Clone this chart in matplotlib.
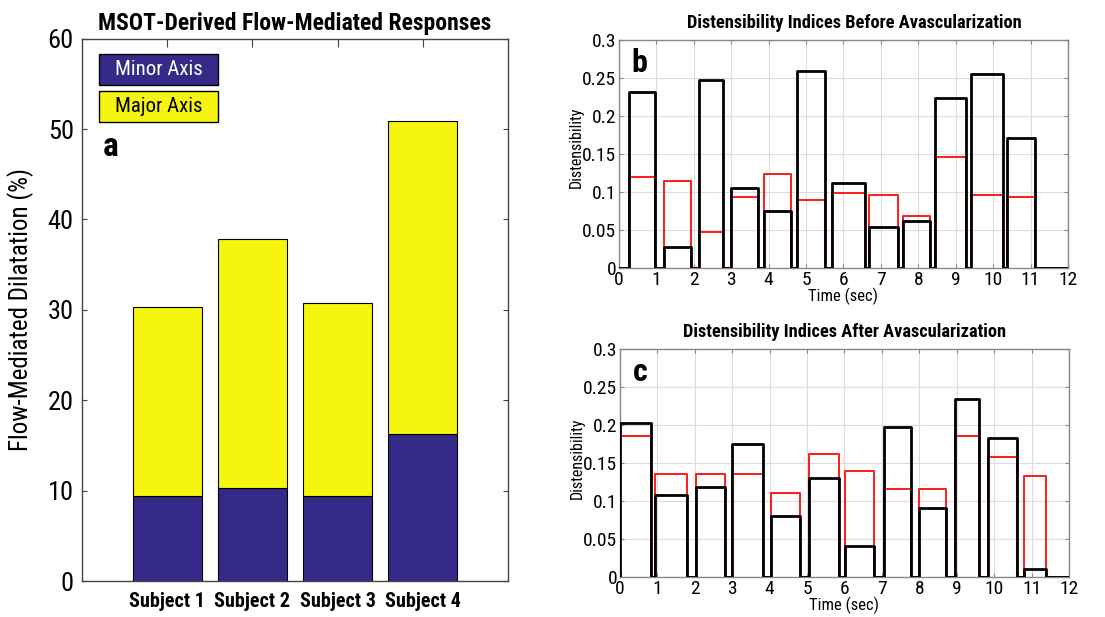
import numpy as np
import matplotlib
matplotlib.use("Agg")
import matplotlib.pyplot as plt
from matplotlib import font_manager
from matplotlib.patches import Rectangle

# prefer a narrow Arial-like face if one is installed
installed = {f.name for f in font_manager.fontManager.ttflist}
narrow = [n for n in ["Liberation Sans Narrow", "Roboto Condensed", "Open Sans Condensed",
                      "Noto Sans Condensed", "DejaVu Sans Condensed"] if n in installed]
if narrow:
    plt.rcParams['font.family'] = [narrow[0], 'DejaVu Sans']
    k = 1.0
else:
    plt.rcParams['font.family'] = ['Liberation Sans', 'DejaVu Sans']
    k = 0.85

# panel a: flow-mediated dilatation per subject
subjects = ["Subject 1", "Subject 2", "Subject 3", "Subject 4"]
minor_axis = [9.4, 10.3, 9.4, 16.3]
major_axis = [20.9, 27.5, 21.4, 34.6]

# panel b: distensibility before avascularization (segment start/end in sec)
b_start = [0.28, 1.20, 2.15, 3.00, 3.89, 4.77, 5.70, 6.69, 7.59, 8.44, 9.40, 10.36]
b_end = [0.97, 1.92, 2.79, 3.71, 4.60, 5.52, 6.59, 7.45, 8.32, 9.28, 10.27, 11.13]
b_black = [0.232, 0.028, 0.248, 0.105, 0.075, 0.259, 0.112, 0.054, 0.062, 0.224, 0.256, 0.171]
b_red = [0.120, 0.114, 0.048, 0.094, 0.124, 0.089, 0.099, 0.096, 0.068, 0.146, 0.096, 0.094]

# panel c: distensibility after avascularization
c_start = [0.00, 0.95, 2.02, 2.99, 4.03, 5.04, 6.02, 7.05, 8.00, 8.94, 9.84, 10.80]
c_end = [0.83, 1.80, 2.80, 3.83, 4.81, 5.85, 6.79, 7.78, 8.70, 9.60, 10.61, 11.39]
c_black = [0.203, 0.108, 0.118, 0.175, 0.080, 0.130, 0.041, 0.197, 0.091, 0.234, 0.183, 0.010]
c_red = [0.186, 0.136, 0.136, 0.136, 0.111, 0.162, 0.139, 0.116, 0.116, 0.186, 0.158, 0.133]

t_max = 12

BLUE = "#352A87"
YELLOW = "#F5F50F"


def step_xy(starts, ends, vals, tmax):
    xs, ys = [0.0], [0.0]
    for s, e, v in zip(starts, ends, vals):
        xs += [s, s, e, e]
        ys += [0.0, v, v, 0.0]
    xs.append(tmax)
    ys.append(0.0)
    return np.array(xs), np.array(ys)


def matlab_box(ax, color="#555555"):
    for sp in ax.spines.values():
        sp.set_color(color)
        sp.set_linewidth(1.0)
    ax.tick_params(direction="in", top=True, right=True, color=color)


fig = plt.figure(figsize=(11.05, 6.17), dpi=100)

# ---- panel a
axa = fig.add_axes([0.0742, 0.0583, 0.3855, 0.879])
x = np.arange(1, len(subjects) + 1)
axa.bar(x, minor_axis, width=0.81, color=BLUE, edgecolor="black", linewidth=0.8, zorder=2)
axa.bar(x, major_axis, width=0.81, bottom=minor_axis, color=YELLOW, edgecolor="black",
        linewidth=0.8, zorder=2)
axa.set_xlim(0, 5)
axa.set_ylim(0, 60)
axa.set_xticks(x)
axa.set_xticklabels(subjects, fontsize=14.5 * k, fontweight="bold")
axa.set_yticks(np.arange(0, 61, 10))
axa.tick_params(axis="y", labelsize=19 * k, pad=6)
axa.tick_params(axis="x", pad=8, length=6)
matlab_box(axa, "#444444")
axa.set_ylabel("Flow-Mediated Dilatation (%)", fontsize=18 * k, labelpad=10)
axa.set_title("MSOT-Derived Flow-Mediated Responses", fontsize=17 * k, fontweight="bold", pad=6)
for i, (lab, col, tcol) in enumerate([("Minor Axis", BLUE, "white"), ("Major Axis", YELLOW, "black")]):
    y0 = 0.915 - i * 0.068
    axa.add_patch(Rectangle((0.04, y0), 0.279, 0.057, transform=axa.transAxes,
                            facecolor=col, edgecolor="black", linewidth=1.0, zorder=5))
    axa.text(0.18, y0 + 0.0285, lab, transform=axa.transAxes, ha="center", va="center",
             fontsize=15 * k, color=tcol, zorder=6)
axa.text(0.068, 0.80, "a", transform=axa.transAxes, fontsize=24 * k, fontweight="bold",
         ha="center", va="center")

# ---- panels b and c
panels = [
    ([0.560, 0.5656, 0.4065, 0.3694], b_start, b_end, b_black, b_red,
     "Distensibility Indices Before Avascularization", "b", 0.524, 0.53),
    ([0.561, 0.0648, 0.4065, 0.3695], c_start, c_end, c_black, c_red,
     "Distensibility Indices After Avascularization", "c", 0.5, 0.52),
]
for rect, st, en, blk, red, title, letter, tx, ly in panels:
    ax = fig.add_axes(rect)
    xr, yr = step_xy(st, en, red, t_max)
    xb, yb = step_xy(st, en, blk, t_max)
    ax.plot(xr, yr, color="#FF1A1A", linewidth=1.4, zorder=3)
    ax.plot(xb, yb, color="black", linewidth=2.0, zorder=4)
    ax.set_xlim(0, t_max)
    ax.set_ylim(0, 0.3)
    ax.set_xticks(np.arange(0, t_max + 1, 1))
    ax.set_yticks(np.arange(0, 0.31, 0.05))
    ax.set_yticklabels(["0", "0.05", "0.1", "0.15", "0.2", "0.25", "0.3"])
    ax.grid(True, color="#DDDDDD", linewidth=0.8, zorder=0)
    ax.tick_params(labelsize=14 * k, length=3, pad=2)
    matlab_box(ax, "#888888")
    ax.set_xlabel("Time (sec)", fontsize=12 * k, labelpad=-1)
    ax.set_ylabel("Distensibility", fontsize=11.5 * k)
    ax.yaxis.set_label_coords(-0.078, ly)
    ax.set_title(title, fontsize=13.2 * k, fontweight="bold", pad=9, x=tx)
    ax.text(0.045, 0.9, letter, transform=ax.transAxes, fontsize=23 * k, fontweight="bold",
            ha="center", va="center")

fig.savefig("out.png", dpi=100)
